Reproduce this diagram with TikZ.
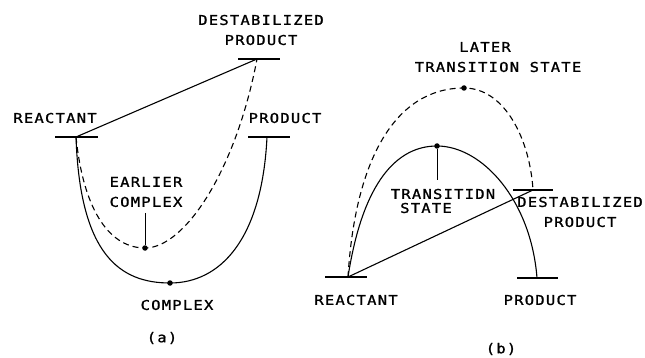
\documentclass[tikz,border=0pt]{standalone}
\usepackage{fontspec}
\newfontfamily\labelfont[LetterSpace=9,FakeStretch=1.15,FakeBold=1.2]{DejaVu Sans Mono}
\begin{document}
\begin{tikzpicture}[x=1pt,y=-1pt,
  lbl/.style={font=\labelfont\fontsize{13.5}{20}\selectfont, inner sep=0pt, align=center},
  level/.style={line width=2.6pt},
  curve/.style={line width=1.1pt},
  dashcurve/.style={line width=1.1pt, dash pattern=on 6pt off 4pt},
  dot/.style={circle, fill=black, inner sep=0pt, minimum size=5.5pt},
  tick/.style={line width=0.9pt}]
\useasboundingbox (0,0) rectangle (645,358);

% ---------- panel (a): complex formation ----------
\coordinate (aR) at (76,137);
\coordinate (aRl) at (55,137);  \coordinate (aRr) at (98,137);
\coordinate (aD) at (257,59);
\coordinate (aDl) at (238,59);  \coordinate (aDr) at (280,59);
\coordinate (aP) at (267,137);
\coordinate (aPl) at (248,137); \coordinate (aPr) at (290,137);
\node[dot] (aC) at (170,283) {};
\node[dot] (aE) at (145,248) {};
\coordinate (aEt) at (145,213);

\draw[level] (aRl) -- (aRr);
\draw[level] (aDl) -- (aDr);
\draw[level] (aPl) -- (aPr);

\draw[curve] (aR) .. controls (80,255) and (120,283) .. (aC.center)
  .. controls (220,283) and (262,240) .. (aP);
\draw[dashcurve] (aR) .. controls (84,215) and (112,248) .. (aE.center)
  .. controls (185,248) and (236,170) .. (aD);
\draw[curve] (aR) -- (aD);
\draw[tick] (aEt) -- (aE);

\node[lbl] (aRlab) at (55,118) {REACTANT};
\node[lbl] (aDlab) at (261,30) {DESTABILIZED\\PRODUCT};
\node[lbl] (aPlab) at (285,118) {PRODUCT};
\node[lbl] (aElab) at (146,192) {EARLIER\\COMPLEX};
\node[lbl] (aClab) at (177,305) {COMPLEX};
\node[lbl] (aCap) at (162,338) {(a)};

% ---------- panel (b): transition state ----------
\coordinate (bR) at (348,277);
\coordinate (bRl) at (325,277); \coordinate (bRr) at (367,277);
\coordinate (bP) at (537,278);
\coordinate (bPl) at (517,278); \coordinate (bPr) at (558,278);
\coordinate (bD) at (533,190);
\coordinate (bDl) at (513,190); \coordinate (bDr) at (553,190);
\node[dot] (bT) at (437,146) {};
\node[dot] (bL) at (464,88) {};
\coordinate (bTt) at (437,180);

\draw[level] (bRl) -- (bRr);
\draw[level] (bPl) -- (bPr);
\draw[level] (bDl) -- (bDr);

\draw[curve] (bR) .. controls (363,180) and (398,146) .. (bT.center)
  .. controls (482,146) and (531,200) .. (bP);
\draw[dashcurve] (bR) .. controls (355,160) and (395,88) .. (bL.center)
  .. controls (505,88) and (530,140) .. (bD);
\draw[curve] (bR) -- (bD);
\draw[tick] (bT) -- (bTt);

\node[lbl] (bLlab1) at (485,47) {LATER};
\node[lbl] (bLlab2) at (498,67) {TRANSITION STATE};
\node[lbl] (bTlab1) at (443,194) {TRANSITIDN};
\node[lbl] (bTlab2) at (426,208) {STATE};
\node[lbl] (bDlab) at (580,212) {DESTABILIZED\\PRODUCT};
\node[lbl] (bRlab) at (356,300) {REACTANT};
\node[lbl] (bPlab) at (540,300) {PRODUCT};
\node[lbl] (bCap) at (501,349) {(b)};
\end{tikzpicture}
\end{document}
